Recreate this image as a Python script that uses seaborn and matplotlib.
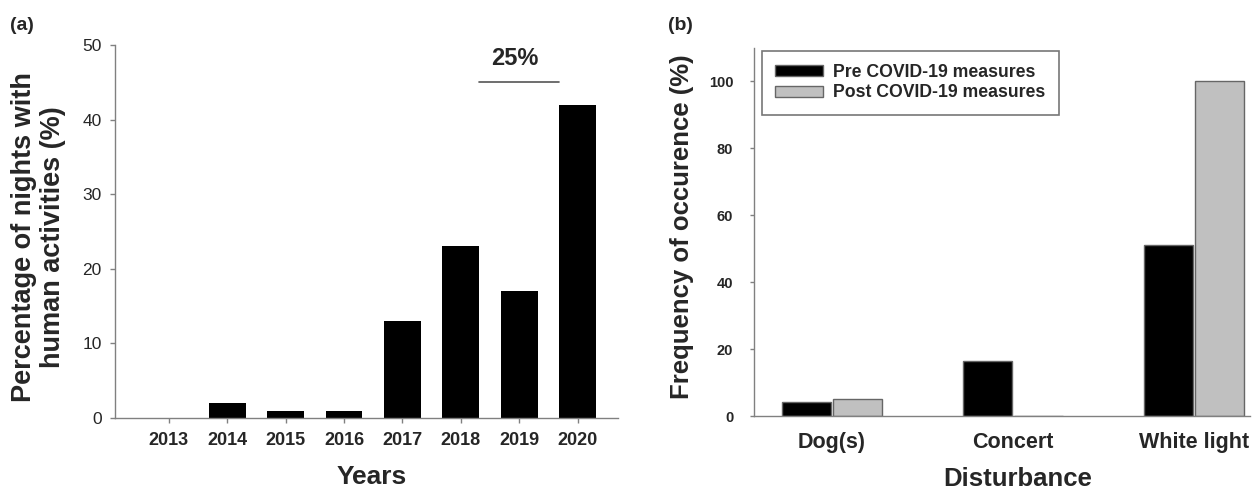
"""Human activity at nesting beach: yearly share of nights and disturbance types."""
import matplotlib
matplotlib.use("Agg")
import matplotlib.pyplot as plt
import pandas as pd
import seaborn as sns

sns.set_theme(style="white")
plt.rcParams["font.family"] = ["Liberation Sans", "DejaVu Sans"]

# panel (a)
years = ["2013", "2014", "2015", "2016", "2017", "2018", "2019", "2020"]
nights_pct = [0, 2, 1, 1, 13, 23, 17, 42]

# panel (b)
disturbances = ["Dog(s)", "Concert", "White light"]
periods = ["Pre COVID-19 measures", "Post COVID-19 measures"]
pre_freq = [4.2, 16.5, 51]
post_freq = [5.1, 0, 100]

SPINE = "#808080"
BAR_W = 0.63


def style_axes(ax):
    sns.despine(ax=ax)
    for side in ("left", "bottom"):
        ax.spines[side].set_color(SPINE)
        ax.spines[side].set_linewidth(1.0)


def main() -> None:
    fig = plt.figure(figsize=(12.54, 4.91), dpi=100)
    ax1 = fig.add_axes([115 / 1254, 73 / 491, 503 / 1254, 373 / 491])
    ax2 = fig.add_axes([754 / 1254, 75 / 491, 496 / 1254, 368 / 491])

    # (a) nights with human activity
    df_a = pd.DataFrame({"year": years, "pct": nights_pct})
    sns.barplot(data=df_a, x="year", y="pct", color="black", width=BAR_W,
                linewidth=0, saturation=1, ax=ax1)
    style_axes(ax1)
    ax1.set_xlim(-0.92, 7.69)
    ax1.set_ylim(0, 50)
    ax1.set_yticks([0, 10, 20, 30, 40, 50])
    ax1.tick_params(axis="y", left=True, length=3.6, width=1, color=SPINE,
                    labelsize=12.5, pad=6)
    ax1.tick_params(axis="x", bottom=True, length=3.6, width=1, color=SPINE,
                    labelsize=13, pad=6.5)
    for t in ax1.get_xticklabels():
        t.set_fontweight("bold")
    ax1.set_ylabel("Percentage of nights with\nhuman activities (%)",
                   fontsize=19.5, fontweight="bold", linespacing=1.15)
    ax1.yaxis.label.set(ha="center", va="center")
    ax1.yaxis.set_label_coords(-0.153, 0.485)
    ax1.set_xlabel("Years", fontsize=19, fontweight="bold")
    ax1.xaxis.label.set(va="center")
    ax1.xaxis.set_label_coords(0.511, -0.158)

    # bracket over 2019 -> 2020 with the change
    i18, i20 = years.index("2018"), years.index("2020")
    ax1.plot([i18 + BAR_W / 2, i20 - BAR_W / 2], [45, 45], color="#555555", lw=1.2)
    ax1.text((i18 + i20) / 2 - 0.08, 48.2, "25%", ha="center", va="center",
             fontsize=17, fontweight="bold")

    # (b) disturbance frequency
    df_b = pd.DataFrame({
        "disturbance": disturbances * 2,
        "period": [periods[0]] * 3 + [periods[1]] * 3,
        "freq": pre_freq + post_freq,
    })
    sns.barplot(data=df_b, x="disturbance", y="freq", hue="period",
                palette=["black", "#c0c0c0"], width=0.56, gap=0.04,
                edgecolor="#666666", linewidth=1, saturation=1, ax=ax2)
    style_axes(ax2)
    ax2.set_xlim(-0.43, 2.31)
    ax2.set_ylim(0, 110)
    ax2.set_yticks([0, 20, 40, 60, 80, 100])
    ax2.tick_params(axis="y", left=True, length=3, width=1, color=SPINE,
                    labelsize=10.5, pad=12)
    ax2.tick_params(axis="x", bottom=False, labelsize=15.5, pad=5.5)
    for t in ax2.get_xticklabels() + ax2.get_yticklabels():
        t.set_fontweight("bold")
    ax2.set_ylabel("Frequency of occurence (%)", fontsize=18.5, fontweight="bold")
    ax2.yaxis.label.set(ha="center", va="center")
    ax2.yaxis.set_label_coords(-0.145, 0.514)
    ax2.set_xlabel("Disturbance", fontsize=18.5, fontweight="bold")
    ax2.xaxis.label.set(va="center")
    ax2.xaxis.set_label_coords(0.532, -0.171)

    handles, labels = ax2.get_legend_handles_labels()
    leg = ax2.legend(handles, labels, loc="upper left", bbox_to_anchor=(0.016, 0.993),
                     borderaxespad=0, frameon=True, fancybox=False, framealpha=1,
                     edgecolor="#777777", prop={"weight": "bold", "size": 12.7},
                     handlelength=2.7, handleheight=0.6, handletextpad=0.6,
                     labelspacing=0.2, borderpad=0.75)
    leg.get_frame().set_linewidth(1.2)

    fig.text(22 / 1254, 1 - 26 / 491, "(a)", ha="center", va="center",
             fontsize=14, fontweight="bold")
    fig.text(680 / 1254, 1 - 25 / 491, "(b)", ha="center", va="center",
             fontsize=14, fontweight="bold")

    fig.savefig("out.png", dpi=100)
    plt.close(fig)


if __name__ == "__main__":
    main()
